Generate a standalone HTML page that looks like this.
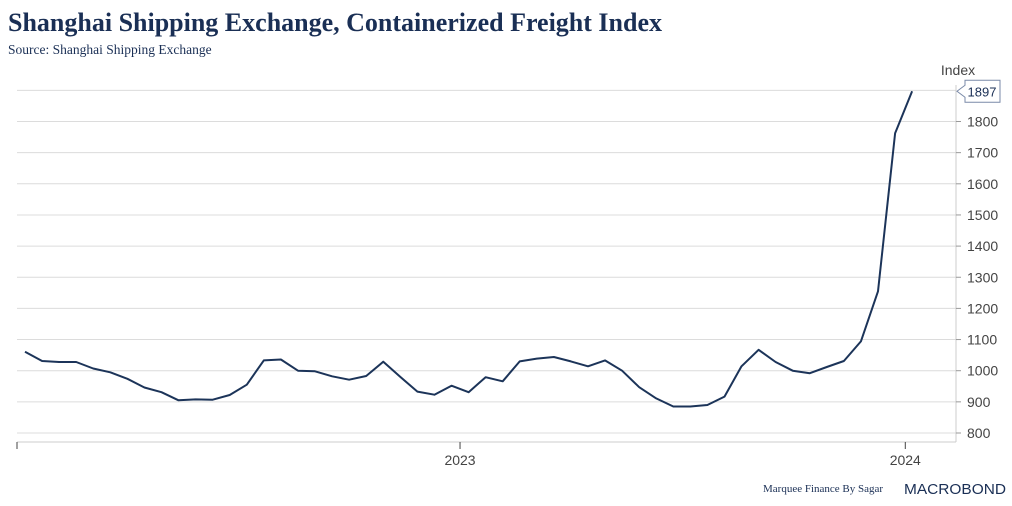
<!DOCTYPE html>
<html><head><meta charset="utf-8"><style>
body{margin:0;background:#fff;width:1012px;height:506px;overflow:hidden}
svg{display:block}
</style></head><body>
<svg width="1012" height="506">
<text x="8" y="31" font-family="Liberation Serif,serif" font-weight="bold" font-size="26" textLength="654" lengthAdjust="spacingAndGlyphs" fill="#1a2f55">Shanghai Shipping Exchange, Containerized Freight Index</text>
<text x="8" y="54" font-family="Liberation Serif,serif" font-size="13.5" fill="#1a2f55">Source: Shanghai Shipping Exchange</text>
<g id="grid"></g>
<g id="yaxis"></g>
<g id="xaxis"></g>
<text x="958" y="75" text-anchor="middle" font-family="Liberation Sans,sans-serif" font-size="14" fill="#444">Index</text>
<path id="line" fill="none" stroke="#1c3459" stroke-width="2" stroke-linejoin="round"/>
<g id="callout"></g>
<text x="763" y="492" font-family="Liberation Serif,serif" font-size="11" fill="#1a2f55">Marquee Finance By Sagar</text>
<text x="904" y="494" font-family="Liberation Sans,sans-serif" font-size="15" textLength="102" lengthAdjust="spacingAndGlyphs" fill="#1a2f55">MACROBOND</text>
</svg>
<script>
const values=[1061,1031,1028,1028,1007,995,974,946,931,905,908,907,922,955,1033,1036,1000,998,982,971,983,1029,980,933,923,952,931,979,966,1030,1039,1044,1030,1014,1033,1000,947,911,885,885,890,917,1014,1067,1028,1000,992,1012,1031,1094,1255,1762,1897];
const yTicks=[800,900,1000,1100,1200,1300,1400,1500,1600,1700,1800];
const xTickLabels=["2023","2024"];
const xTickIdx=[25.5,51.6];
const NS="http://www.w3.org/2000/svg";
const L=17,R=956,x0=25,dx=17.06;
const X=i=>x0+dx*i;
const Y=v=>433-(v-800)*0.3115;
function mk(t,a,p){const e=document.createElementNS(NS,t);for(const k in a)e.setAttribute(k,a[k]);p.appendChild(e);return e;}
const grid=document.getElementById('grid'),ya=document.getElementById('yaxis'),xa=document.getElementById('xaxis');
for(const v of yTicks.concat([1900])){
 const g=mk('line',{x1:L,x2:R,y1:Y(v),y2:Y(v),stroke:'#dcdcdc','stroke-width':1},grid);
 
 
}
mk('line',{x1:R,x2:R,y1:85,y2:442,stroke:'#ccc'},ya);
for(const v of yTicks){
 mk('line',{x1:R,x2:R+5,y1:Y(v),y2:Y(v),stroke:'#999'},ya);
 const t=mk('text',{x:967,y:Y(v)+5,'font-family':'Liberation Sans,sans-serif','font-size':14,fill:'#444'},ya);
 t.textContent=v;
 
 
}
mk('line',{x1:L,x2:R,y1:442,y2:442,stroke:'#ccc'},xa);
mk('line',{x1:L,x2:L,y1:442,y2:449,stroke:'#444'},xa);
xTickIdx.forEach((ix,k)=>{
 mk('line',{x1:X(ix),x2:X(ix),y1:442,y2:449,stroke:'#444'},xa);
 const t=mk('text',{x:X(ix),y:465,'text-anchor':'middle','font-family':'Liberation Sans,sans-serif','font-size':14,fill:'#444'},xa);
 t.textContent=xTickLabels[k];
 
 
});
document.getElementById('line').setAttribute('d',values.map((v,i)=>(i?'L':'M')+X(i).toFixed(1)+','+Y(v).toFixed(1)).join(''));
const last=values[values.length-1],cy=Y(last),c=document.getElementById('callout');
mk('path',{d:`M957,${cy}L965,${cy-6}V${cy-11}H1000V${cy+11}H965V${cy+6}Z`,fill:'#fff',stroke:'#7a8aa8'},c);
const ct=mk('text',{x:982,y:cy+5,'text-anchor':'middle','font-family':'Liberation Sans,sans-serif','font-size':13,fill:'#1a2f55'},c);
ct.textContent=last;
</script>
</body></html>
